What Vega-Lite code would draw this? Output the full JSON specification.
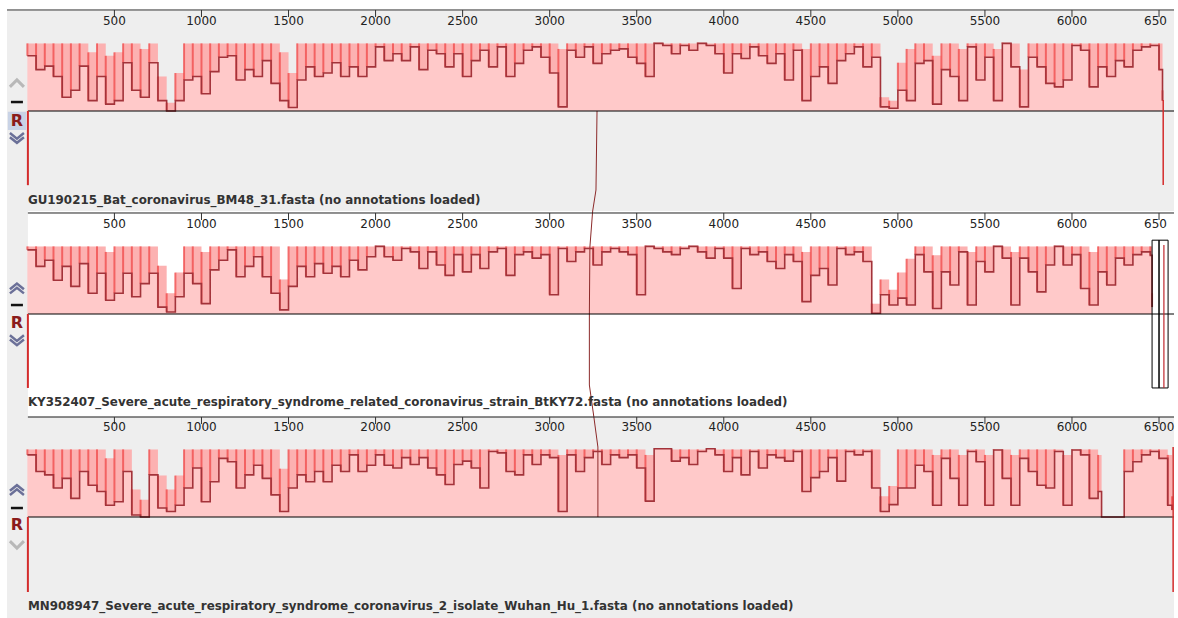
{
"$schema": "https://vega.github.io/schema/vega-lite/v6.json",
"background": "#ffffff",
"padding": {"left": 3, "top": 9, "right": 4, "bottom": 0},
"bounds": "flush",
"spacing": 0,
"config": {"view": {"stroke": null}},
"datasets": {
"one": [{}],
"ticks": [{"v":500},{"v":1000},{"v":1500},{"v":2000},{"v":2500},{"v":3000},{"v":3500},{"v":4000},{"v":4500},{"v":5000},{"v":5500},{"v":6000},{"v":6500}],
"c1": [{"i":0,"x":3272,"y":0},{"i":1,"x":3266,"y":-1.145},{"i":2,"x":3247,"y":-1.4493}],
"c2": [{"i":0,"x":3247,"y":1.4928},{"i":1,"x":3246,"y":1.464},{"i":2,"x":3231,"y":0.971},{"i":3,"x":3228,"y":0},{"i":4,"x":3228,"y":-1.029},{"i":5,"x":3253,"y":-1.4783}],
"c3": [{"i":0,"x":3253,"y":1.4638},{"i":1,"x":3277,"y":1.014},{"i":2,"x":3277,"y":0}],
"p1": [{"x":0,"a":0.8,"h":0.98},{"x":50,"a":0.6,"h":0.98},{"x":100,"a":0.65,"h":0.98},{"x":150,"a":0.5,"h":0.98},{"x":200,"a":0.2,"h":0.98},{"x":250,"a":0.3,"h":0.98},{"x":300,"a":0.65,"h":0.98},{"x":350,"a":0.15,"h":0.85},{"x":400,"a":0.5,"h":0.98},{"x":450,"a":0.1,"h":0.8},{"x":500,"a":0.15,"h":0.85},{"x":550,"a":0.7,"h":0.98},{"x":600,"a":0.3,"h":0.98},{"x":650,"a":0.2,"h":0.9},{"x":700,"a":0.7,"h":0.98},{"x":750,"a":0.15,"h":0.5},{"x":800,"a":0,"h":0.12},{"x":850,"a":0.15,"h":0.55},{"x":900,"a":0.45,"h":0.98},{"x":950,"a":0.5,"h":0.98},{"x":1000,"a":0.25,"h":0.98},{"x":1050,"a":0.57,"h":0.98},{"x":1100,"a":0.78,"h":0.98},{"x":1150,"a":0.8,"h":0.98},{"x":1200,"a":0.45,"h":0.98},{"x":1250,"a":0.6,"h":0.98},{"x":1300,"a":0.5,"h":0.98},{"x":1350,"a":0.73,"h":0.98},{"x":1400,"a":0.4,"h":0.98},{"x":1450,"a":0.15,"h":0.85},{"x":1500,"a":0.05,"h":0.55},{"x":1550,"a":0.45,"h":0.98},{"x":1600,"a":0.64,"h":0.98},{"x":1650,"a":0.5,"h":0.98},{"x":1700,"a":0.55,"h":0.98},{"x":1750,"a":0.7,"h":0.98},{"x":1800,"a":0.5,"h":0.98},{"x":1850,"a":0.64,"h":0.98},{"x":1900,"a":0.5,"h":0.98},{"x":1950,"a":0.64,"h":0.98},{"x":2000,"a":0.93,"h":0.98},{"x":2050,"a":0.73,"h":0.98},{"x":2100,"a":0.83,"h":0.98},{"x":2150,"a":0.73,"h":0.98},{"x":2200,"a":0.93,"h":0.98},{"x":2250,"a":0.6,"h":0.98},{"x":2300,"a":0.88,"h":0.98},{"x":2350,"a":0.83,"h":0.98},{"x":2400,"a":0.64,"h":0.98},{"x":2450,"a":0.83,"h":0.98},{"x":2500,"a":0.5,"h":0.98},{"x":2550,"a":0.73,"h":0.98},{"x":2600,"a":0.88,"h":0.98},{"x":2650,"a":0.64,"h":0.98},{"x":2700,"a":0.93,"h":0.98},{"x":2750,"a":0.5,"h":0.98},{"x":2800,"a":0.69,"h":0.98},{"x":2850,"a":0.88,"h":0.98},{"x":2900,"a":0.93,"h":0.98},{"x":2950,"a":0.78,"h":0.98},{"x":3000,"a":0.55,"h":0.98},{"x":3050,"a":0.06,"h":0.9},{"x":3100,"a":0.88,"h":0.98},{"x":3150,"a":0.78,"h":0.98},{"x":3200,"a":0.93,"h":0.98},{"x":3250,"a":0.69,"h":0.98},{"x":3300,"a":0.83,"h":0.98},{"x":3350,"a":0.88,"h":0.98},{"x":3400,"a":0.9,"h":0.98},{"x":3450,"a":0.78,"h":0.98},{"x":3500,"a":0.69,"h":0.98},{"x":3550,"a":0.5,"h":0.98},{"x":3600,"a":0.98,"h":0.99},{"x":3650,"a":0.95,"h":0.98},{"x":3700,"a":0.83,"h":0.98},{"x":3750,"a":0.95,"h":0.98},{"x":3800,"a":0.88,"h":0.98},{"x":3850,"a":0.98,"h":0.99},{"x":3900,"a":0.95,"h":0.98},{"x":3950,"a":0.83,"h":0.98},{"x":4000,"a":0.55,"h":0.98},{"x":4050,"a":0.83,"h":0.98},{"x":4100,"a":0.76,"h":0.98},{"x":4150,"a":0.93,"h":0.98},{"x":4200,"a":0.8,"h":0.98},{"x":4250,"a":0.69,"h":0.98},{"x":4300,"a":0.83,"h":0.98},{"x":4350,"a":0.45,"h":0.98},{"x":4400,"a":0.88,"h":0.98},{"x":4450,"a":0.15,"h":0.9},{"x":4500,"a":0.5,"h":0.98},{"x":4550,"a":0.64,"h":0.98},{"x":4600,"a":0.4,"h":0.98},{"x":4650,"a":0.73,"h":0.98},{"x":4700,"a":0.83,"h":0.98},{"x":4750,"a":0.93,"h":0.98},{"x":4800,"a":0.64,"h":0.98},{"x":4850,"a":0.78,"h":0.98},{"x":4900,"a":0.06,"h":0.2},{"x":4950,"a":0.04,"h":0.15},{"x":5000,"a":0.3,"h":0.7},{"x":5050,"a":0.15,"h":0.9},{"x":5100,"a":0.69,"h":0.98},{"x":5150,"a":0.73,"h":0.98},{"x":5200,"a":0.1,"h":0.8},{"x":5250,"a":0.6,"h":0.98},{"x":5300,"a":0.5,"h":0.98},{"x":5350,"a":0.15,"h":0.9},{"x":5400,"a":0.93,"h":0.98},{"x":5450,"a":0.45,"h":0.98},{"x":5500,"a":0.78,"h":0.98},{"x":5550,"a":0.15,"h":0.9},{"x":5600,"a":0.98,"h":0.99},{"x":5650,"a":0.64,"h":0.98},{"x":5700,"a":0.06,"h":0.6},{"x":5750,"a":0.78,"h":0.98},{"x":5800,"a":0.64,"h":0.98},{"x":5850,"a":0.4,"h":0.98},{"x":5900,"a":0.35,"h":0.98},{"x":5950,"a":0.45,"h":0.98},{"x":6000,"a":0.95,"h":0.98},{"x":6050,"a":0.88,"h":0.98},{"x":6100,"a":0.35,"h":0.98},{"x":6150,"a":0.64,"h":0.98},{"x":6200,"a":0.5,"h":0.98},{"x":6250,"a":0.73,"h":0.98},{"x":6300,"a":0.64,"h":0.98},{"x":6350,"a":0.88,"h":0.98},{"x":6400,"a":0.93,"h":0.98},{"x":6450,"a":0.95,"h":0.98},{"x":6500,"a":0.6,"h":0.98},{"x":6520,"a":0.15,"h":0.3}],
"p2": [{"x":0,"a":0.93,"h":0.98},{"x":50,"a":0.69,"h":0.98},{"x":100,"a":0.78,"h":0.98},{"x":150,"a":0.49,"h":0.98},{"x":200,"a":0.69,"h":0.98},{"x":250,"a":0.4,"h":0.98},{"x":300,"a":0.73,"h":0.98},{"x":350,"a":0.3,"h":0.98},{"x":400,"a":0.59,"h":0.98},{"x":450,"a":0.2,"h":0.9},{"x":500,"a":0.3,"h":0.98},{"x":550,"a":0.59,"h":0.98},{"x":600,"a":0.25,"h":0.98},{"x":650,"a":0.44,"h":0.98},{"x":700,"a":0.59,"h":0.98},{"x":750,"a":0.1,"h":0.7},{"x":800,"a":0.03,"h":0.3},{"x":850,"a":0.25,"h":0.6},{"x":900,"a":0.59,"h":0.98},{"x":950,"a":0.44,"h":0.98},{"x":1000,"a":0.15,"h":0.9},{"x":1050,"a":0.64,"h":0.98},{"x":1100,"a":0.78,"h":0.98},{"x":1150,"a":0.93,"h":0.98},{"x":1200,"a":0.54,"h":0.98},{"x":1250,"a":0.69,"h":0.98},{"x":1300,"a":0.83,"h":0.98},{"x":1350,"a":0.54,"h":0.98},{"x":1400,"a":0.3,"h":0.98},{"x":1450,"a":0.06,"h":0.5},{"x":1500,"a":0.4,"h":0.98},{"x":1550,"a":0.69,"h":0.98},{"x":1600,"a":0.54,"h":0.98},{"x":1650,"a":0.73,"h":0.98},{"x":1700,"a":0.59,"h":0.98},{"x":1750,"a":0.69,"h":0.98},{"x":1800,"a":0.54,"h":0.98},{"x":1850,"a":0.78,"h":0.98},{"x":1900,"a":0.64,"h":0.98},{"x":1950,"a":0.83,"h":0.98},{"x":2000,"a":0.98,"h":0.99},{"x":2050,"a":0.83,"h":0.98},{"x":2100,"a":0.78,"h":0.98},{"x":2150,"a":0.95,"h":0.98},{"x":2200,"a":0.9,"h":0.98},{"x":2250,"a":0.66,"h":0.98},{"x":2300,"a":0.9,"h":0.98},{"x":2350,"a":0.71,"h":0.98},{"x":2400,"a":0.56,"h":0.98},{"x":2450,"a":0.86,"h":0.98},{"x":2500,"a":0.61,"h":0.98},{"x":2550,"a":0.86,"h":0.98},{"x":2600,"a":0.66,"h":0.98},{"x":2650,"a":0.9,"h":0.98},{"x":2700,"a":0.95,"h":0.98},{"x":2750,"a":0.56,"h":0.98},{"x":2800,"a":0.86,"h":0.98},{"x":2850,"a":0.9,"h":0.98},{"x":2900,"a":0.81,"h":0.98},{"x":2950,"a":0.86,"h":0.98},{"x":3000,"a":0.28,"h":0.98},{"x":3050,"a":0.95,"h":0.98},{"x":3100,"a":0.76,"h":0.98},{"x":3150,"a":0.9,"h":0.98},{"x":3200,"a":0.95,"h":0.98},{"x":3250,"a":0.71,"h":0.98},{"x":3300,"a":0.9,"h":0.98},{"x":3350,"a":0.95,"h":0.98},{"x":3400,"a":0.9,"h":0.98},{"x":3450,"a":0.86,"h":0.98},{"x":3500,"a":0.28,"h":0.98},{"x":3550,"a":0.98,"h":0.99},{"x":3600,"a":0.95,"h":0.98},{"x":3650,"a":0.9,"h":0.98},{"x":3700,"a":0.86,"h":0.98},{"x":3750,"a":0.95,"h":0.98},{"x":3800,"a":0.98,"h":0.99},{"x":3850,"a":0.9,"h":0.98},{"x":3900,"a":0.81,"h":0.98},{"x":3950,"a":0.95,"h":0.98},{"x":4000,"a":0.81,"h":0.98},{"x":4050,"a":0.37,"h":0.98},{"x":4100,"a":0.95,"h":0.98},{"x":4150,"a":0.86,"h":0.98},{"x":4200,"a":0.9,"h":0.98},{"x":4250,"a":0.76,"h":0.98},{"x":4300,"a":0.66,"h":0.98},{"x":4350,"a":0.86,"h":0.98},{"x":4400,"a":0.76,"h":0.98},{"x":4450,"a":0.18,"h":0.9},{"x":4500,"a":0.56,"h":0.98},{"x":4550,"a":0.66,"h":0.98},{"x":4600,"a":0.42,"h":0.98},{"x":4650,"a":0.95,"h":0.98},{"x":4700,"a":0.86,"h":0.98},{"x":4750,"a":0.9,"h":0.98},{"x":4800,"a":0.76,"h":0.98},{"x":4850,"a":0.01,"h":0.15},{"x":4900,"a":0.28,"h":0.5},{"x":4950,"a":0.13,"h":0.35},{"x":5000,"a":0.23,"h":0.6},{"x":5050,"a":0.13,"h":0.8},{"x":5100,"a":0.86,"h":0.98},{"x":5150,"a":0.61,"h":0.98},{"x":5200,"a":0.08,"h":0.85},{"x":5250,"a":0.61,"h":0.98},{"x":5300,"a":0.42,"h":0.98},{"x":5350,"a":0.9,"h":0.98},{"x":5400,"a":0.13,"h":0.9},{"x":5450,"a":0.76,"h":0.98},{"x":5500,"a":0.61,"h":0.98},{"x":5550,"a":0.98,"h":0.99},{"x":5600,"a":0.81,"h":0.98},{"x":5650,"a":0.13,"h":0.9},{"x":5700,"a":0.81,"h":0.98},{"x":5750,"a":0.61,"h":0.98},{"x":5800,"a":0.32,"h":0.98},{"x":5850,"a":0.71,"h":0.98},{"x":5900,"a":0.98,"h":0.99},{"x":5950,"a":0.71,"h":0.98},{"x":6000,"a":0.86,"h":0.98},{"x":6050,"a":0.37,"h":0.98},{"x":6100,"a":0.13,"h":0.9},{"x":6150,"a":0.61,"h":0.98},{"x":6200,"a":0.42,"h":0.98},{"x":6250,"a":0.81,"h":0.98},{"x":6300,"a":0.71,"h":0.98},{"x":6350,"a":0.86,"h":0.98},{"x":6400,"a":0.9,"h":0.98},{"x":6450,"a":0.85,"h":0.98},{"x":6460,"a":0.1,"h":0.3}],
"p3": [{"x":0,"a":0.9,"h":0.98},{"x":50,"a":0.66,"h":0.98},{"x":100,"a":0.61,"h":0.98},{"x":150,"a":0.42,"h":0.98},{"x":200,"a":0.56,"h":0.98},{"x":250,"a":0.27,"h":0.98},{"x":300,"a":0.66,"h":0.98},{"x":350,"a":0.46,"h":0.98},{"x":400,"a":0.37,"h":0.98},{"x":450,"a":0.17,"h":0.85},{"x":500,"a":0.22,"h":0.98},{"x":550,"a":0.66,"h":0.98},{"x":600,"a":0.03,"h":0.4},{"x":650,"a":0,"h":0.25},{"x":700,"a":0.61,"h":0.98},{"x":750,"a":0.13,"h":0.6},{"x":800,"a":0.08,"h":0.4},{"x":850,"a":0.17,"h":0.6},{"x":900,"a":0.42,"h":0.98},{"x":950,"a":0.71,"h":0.98},{"x":1000,"a":0.22,"h":0.98},{"x":1050,"a":0.51,"h":0.98},{"x":1100,"a":0.85,"h":0.98},{"x":1150,"a":0.8,"h":0.98},{"x":1200,"a":0.42,"h":0.98},{"x":1250,"a":0.61,"h":0.98},{"x":1300,"a":0.75,"h":0.98},{"x":1350,"a":0.56,"h":0.98},{"x":1400,"a":0.32,"h":0.98},{"x":1450,"a":0.08,"h":0.7},{"x":1500,"a":0.42,"h":0.98},{"x":1550,"a":0.61,"h":0.98},{"x":1600,"a":0.51,"h":0.98},{"x":1650,"a":0.66,"h":0.98},{"x":1700,"a":0.51,"h":0.98},{"x":1750,"a":0.75,"h":0.98},{"x":1800,"a":0.66,"h":0.98},{"x":1850,"a":0.9,"h":0.98},{"x":1900,"a":0.66,"h":0.98},{"x":1950,"a":0.75,"h":0.98},{"x":2000,"a":0.9,"h":0.98},{"x":2050,"a":0.75,"h":0.98},{"x":2100,"a":0.71,"h":0.98},{"x":2150,"a":0.86,"h":0.98},{"x":2200,"a":0.76,"h":0.98},{"x":2250,"a":0.86,"h":0.98},{"x":2300,"a":0.71,"h":0.98},{"x":2350,"a":0.61,"h":0.98},{"x":2400,"a":0.47,"h":0.98},{"x":2450,"a":0.76,"h":0.98},{"x":2500,"a":0.81,"h":0.98},{"x":2550,"a":0.71,"h":0.98},{"x":2600,"a":0.42,"h":0.98},{"x":2650,"a":0.95,"h":0.98},{"x":2700,"a":0.93,"h":0.98},{"x":2750,"a":0.66,"h":0.98},{"x":2800,"a":0.61,"h":0.98},{"x":2850,"a":0.9,"h":0.98},{"x":2900,"a":0.76,"h":0.98},{"x":2950,"a":0.9,"h":0.98},{"x":3000,"a":0.86,"h":0.98},{"x":3050,"a":0.08,"h":0.9},{"x":3100,"a":0.9,"h":0.98},{"x":3150,"a":0.66,"h":0.98},{"x":3200,"a":0.86,"h":0.98},{"x":3250,"a":0.95,"h":0.98},{"x":3300,"a":0.76,"h":0.98},{"x":3350,"a":0.9,"h":0.98},{"x":3400,"a":0.86,"h":0.98},{"x":3450,"a":0.9,"h":0.98},{"x":3500,"a":0.71,"h":0.98},{"x":3550,"a":0.23,"h":0.9},{"x":3600,"a":0.99,"h":0.99},{"x":3650,"a":0.99,"h":0.99},{"x":3700,"a":0.81,"h":0.98},{"x":3750,"a":0.86,"h":0.98},{"x":3800,"a":0.76,"h":0.98},{"x":3850,"a":0.95,"h":0.98},{"x":3900,"a":0.99,"h":0.99},{"x":3950,"a":0.9,"h":0.98},{"x":4000,"a":0.66,"h":0.98},{"x":4050,"a":0.86,"h":0.98},{"x":4100,"a":0.61,"h":0.98},{"x":4150,"a":0.95,"h":0.98},{"x":4200,"a":0.71,"h":0.98},{"x":4250,"a":0.9,"h":0.98},{"x":4300,"a":0.86,"h":0.98},{"x":4350,"a":0.81,"h":0.98},{"x":4400,"a":0.95,"h":0.98},{"x":4450,"a":0.37,"h":0.98},{"x":4500,"a":0.57,"h":0.98},{"x":4550,"a":0.66,"h":0.98},{"x":4600,"a":0.86,"h":0.98},{"x":4650,"a":0.52,"h":0.98},{"x":4700,"a":0.95,"h":0.98},{"x":4750,"a":0.9,"h":0.98},{"x":4800,"a":0.95,"h":0.98},{"x":4850,"a":0.42,"h":0.98},{"x":4900,"a":0.08,"h":0.3},{"x":4950,"a":0.18,"h":0.45},{"x":5000,"a":0.42,"h":0.98},{"x":5050,"a":0.42,"h":0.98},{"x":5100,"a":0.75,"h":0.98},{"x":5150,"a":0.66,"h":0.98},{"x":5200,"a":0.17,"h":0.9},{"x":5250,"a":0.85,"h":0.98},{"x":5300,"a":0.56,"h":0.98},{"x":5350,"a":0.17,"h":0.9},{"x":5400,"a":0.95,"h":0.98},{"x":5450,"a":0.8,"h":0.98},{"x":5500,"a":0.17,"h":0.9},{"x":5550,"a":0.97,"h":0.98},{"x":5600,"a":0.56,"h":0.98},{"x":5650,"a":0.17,"h":0.9},{"x":5700,"a":0.85,"h":0.98},{"x":5750,"a":0.66,"h":0.98},{"x":5800,"a":0.46,"h":0.98},{"x":5850,"a":0.42,"h":0.98},{"x":5900,"a":0.95,"h":0.98},{"x":5950,"a":0.17,"h":0.9},{"x":6000,"a":0.97,"h":0.98},{"x":6050,"a":0.9,"h":0.98},{"x":6100,"a":0.27,"h":0.98},{"x":6150,"a":0.37,"h":0.9},{"x":6170,"a":0,"h":0},{"x":6200,"a":0,"h":0},{"x":6250,"a":0,"h":0},{"x":6265,"a":0,"h":0},{"x":6300,"a":0.66,"h":0.98},{"x":6350,"a":0.8,"h":0.98},{"x":6400,"a":0.9,"h":0.98},{"x":6450,"a":0.95,"h":0.98},{"x":6500,"a":0.85,"h":0.98},{"x":6550,"a":0.17,"h":0.9},{"x":6575,"a":0.1,"h":0.3}]
},
"vconcat": [
{
"width": 1167, "height": 202,
"view": {"fill": "#eeeeee", "stroke": null},
"layer": [
{"data":{"name":"p1"},"mark":{"type":"area","interpolate":"step-after","color":"#ffc9c9"},"encoding":{"x":{"field":"x","type":"quantitative","scale":{"domain":[-117,6586],"nice":false,"zero":false},"axis":null},"y":{"field":"h","type":"quantitative","scale":{"domain":[-1.4493,1.4783],"nice":false,"zero":false},"axis":null},"y2":{"datum":0}}},
{"data":{"name":"p1"},"mark":{"type":"area","interpolate":"step-after","color":"#f04848","opacity":0.18},"encoding":{"x":{"field":"x","type":"quantitative","axis":null},"y":{"field":"a","type":"quantitative","axis":null},"y2":{"field":"h"}}},
{"data":{"name":"p1"},"mark":{"type":"rule","color":"#f04848","strokeWidth":2,"opacity":0.75},"encoding":{"x":{"field":"x","type":"quantitative","axis":null},"y":{"field":"a","type":"quantitative","axis":null},"y2":{"field":"h"}}},
{"data":{"name":"c1"},"mark":{"type":"line","color":"#8c2a2a","strokeWidth":1},"encoding":{"x":{"field":"x","type":"quantitative","axis":null},"y":{"field":"y","type":"quantitative","axis":null},"order":{"field":"i"}}},
{"data":{"name":"p1"},"mark":{"type":"line","interpolate":"step-after","color":"#a3333a","strokeWidth":1.6},"encoding":{"x":{"field":"x","type":"quantitative","axis":null},"y":{"field":"a","type":"quantitative","axis":null}}},
{"data":{"name":"one"},"mark":{"type":"rule","color":"#000000","strokeWidth":1},"encoding":{"x":{"datum":3,"axis":null},"x2":{"datum":6586},"y":{"datum":0,"axis":null}}},
{"data":{"name":"one"},"mark":{"type":"rule","color":"#d42b2b","strokeWidth":2},"encoding":{"x":{"datum":3,"axis":null},"y":{"datum":0,"axis":null},"y2":{"datum":-1.075}}},
{"data":{"name":"one"},"mark":{"type":"rule","color":"#d42b2b","strokeWidth":1.5},"encoding":{"x":{"datum":6524,"axis":null},"y":{"datum":0.16,"axis":null},"y2":{"datum":-1.072}}},
{"data":{"name":"one"},"mark":{"type":"rule","color":"#3a3a3a","strokeWidth":1},"encoding":{"x":{"datum":-117,"axis":null},"x2":{"datum":6586},"y":{"datum":1.464,"axis":null}}},
{"data":{"name":"ticks"},"mark":{"type":"rule","color":"#333333","strokeWidth":1},"encoding":{"x":{"field":"v","type":"quantitative","axis":null},"y":{"datum":1.464,"axis":null},"y2":{"datum":1.362}}},
{"data":{"name":"ticks"},"transform":[{"filter":"datum.v < 6500"}],"mark":{"type":"text","font":"DejaVu Sans","fontSize":12,"color":"#222222","baseline":"middle","align":"center"},"encoding":{"x":{"field":"v","type":"quantitative","axis":null},"y":{"datum":1.304,"axis":null},"text":{"field":"v","type":"quantitative","format":"d"}}},
{"data":{"name":"ticks"},"transform":[{"filter":"datum.v == 6500"}],"mark":{"type":"text","font":"DejaVu Sans","fontSize":12,"color":"#222222","baseline":"middle","align":"left","dx":-15,"limit":23,"ellipsis":"\u200b"},"encoding":{"x":{"field":"v","type":"quantitative","axis":null},"y":{"datum":1.304,"axis":null},"text":{"field":"v","type":"quantitative","format":"d"}}},
{"data":{"name":"one"},"mark":{"type":"text","text":"GU190215_Bat_coronavirus_BM48_31.fasta (no annotations loaded)","font":"DejaVu Sans","fontWeight":"bold","fontSize":11.9,"color":"#333333","align":"left","baseline":"middle"},"encoding":{"x":{"datum":3,"axis":null},"y":{"datum":-1.29,"axis":null}}},
{"data":{"name":"one"},"mark":{"type":"rect","color":"#c9d3e6"},"encoding":{"x":{"datum":-112,"axis":null},"x2":{"datum":-6},"y":{"datum":-0.01,"axis":null},"y2":{"datum":-0.275}}},
{"data":{"name":"one"},"mark":{"type":"point","shape":"M-1,0.5L0,-0.5L1,0.5","filled":false,"size":196,"strokeWidth":3,"color":"#b8b8b8","opacity":1},"encoding":{"x":{"datum":-60,"axis":null},"y":{"datum":0.4,"axis":null}}},
{"data":{"name":"one"},"mark":{"type":"point","shape":"M-1,0L1,0","filled":false,"size":144,"strokeWidth":2.5,"color":"#111111","opacity":1},"encoding":{"x":{"datum":-60,"axis":null},"y":{"datum":0.13,"axis":null}}},
{"data":{"name":"one"},"mark":{"type":"text","text":"R","font":"DejaVu Sans","fontWeight":"bold","fontSize":16,"color":"#8b1c1c","align":"center","baseline":"middle"},"encoding":{"x":{"datum":-60,"axis":null},"y":{"datum":-0.145,"axis":null}}},
{"data":{"name":"one"},"mark":{"type":"point","shape":"M-1,-0.7L0,0.1L1,-0.7M-1,-0.1L0,0.7L1,-0.1","filled":false,"size":196,"strokeWidth":2.5,"color":"#6b7098","opacity":1},"encoding":{"x":{"datum":-60,"axis":null},"y":{"datum":-0.39,"axis":null}}}
]
},
{
"width": 1167, "height": 205,
"view": {"fill": "#ffffff", "stroke": null},
"layer": [
{"data":{"name":"one"},"mark":{"type":"rect","color":"#eeeeee"},"encoding":{"x":{"datum":-117,"type":"quantitative","scale":{"domain":[-117,6586],"nice":false,"zero":false},"axis":null},"x2":{"datum":3},"y":{"datum":-1.4783,"type":"quantitative","scale":{"domain":[-1.4783,1.4928],"nice":false,"zero":false},"axis":null},"y2":{"datum":1.4928}}},
{"data":{"name":"p2"},"mark":{"type":"area","interpolate":"step-after","color":"#ffc9c9"},"encoding":{"x":{"field":"x","type":"quantitative","axis":null},"y":{"field":"h","type":"quantitative","axis":null},"y2":{"datum":0}}},
{"data":{"name":"p2"},"mark":{"type":"area","interpolate":"step-after","color":"#f04848","opacity":0.18},"encoding":{"x":{"field":"x","type":"quantitative","axis":null},"y":{"field":"a","type":"quantitative","axis":null},"y2":{"field":"h"}}},
{"data":{"name":"p2"},"mark":{"type":"rule","color":"#f04848","strokeWidth":2,"opacity":0.75},"encoding":{"x":{"field":"x","type":"quantitative","axis":null},"y":{"field":"a","type":"quantitative","axis":null},"y2":{"field":"h"}}},
{"data":{"name":"c2"},"mark":{"type":"line","color":"#8c2a2a","strokeWidth":1},"encoding":{"x":{"field":"x","type":"quantitative","axis":null},"y":{"field":"y","type":"quantitative","axis":null},"order":{"field":"i"}}},
{"data":{"name":"p2"},"mark":{"type":"line","interpolate":"step-after","color":"#a3333a","strokeWidth":1.6},"encoding":{"x":{"field":"x","type":"quantitative","axis":null},"y":{"field":"a","type":"quantitative","axis":null}}},
{"data":{"name":"one"},"mark":{"type":"rule","color":"#000000","strokeWidth":1},"encoding":{"x":{"datum":3,"axis":null},"x2":{"datum":6586},"y":{"datum":0,"axis":null}}},
{"data":{"name":"one"},"mark":{"type":"rule","color":"#d42b2b","strokeWidth":2},"encoding":{"x":{"datum":3,"axis":null},"y":{"datum":0,"axis":null},"y2":{"datum":-1.072}}},
{"data":{"name":"one"},"mark":{"type":"rect","fillOpacity":0,"stroke":"#000000","strokeWidth":1},"encoding":{"x":{"datum":6460,"axis":null},"x2":{"datum":6500},"y":{"datum":1.07,"axis":null},"y2":{"datum":-1.072}}},
{"data":{"name":"one"},"mark":{"type":"rect","fillOpacity":0,"stroke":"#000000","strokeWidth":1},"encoding":{"x":{"datum":6500,"axis":null},"x2":{"datum":6552},"y":{"datum":1.07,"axis":null},"y2":{"datum":-1.072}}},
{"data":{"name":"one"},"mark":{"type":"rule","color":"#c0282e","strokeWidth":1.2},"encoding":{"x":{"datum":6528,"axis":null},"y":{"datum":1.0,"axis":null},"y2":{"datum":-1.072}}},
{"data":{"name":"one"},"mark":{"type":"rule","color":"#222222","strokeWidth":1},"encoding":{"x":{"datum":3,"axis":null},"x2":{"datum":6586},"y":{"datum":1.464,"axis":null}}},
{"data":{"name":"ticks"},"mark":{"type":"rule","color":"#333333","strokeWidth":1},"encoding":{"x":{"field":"v","type":"quantitative","axis":null},"y":{"datum":1.464,"axis":null},"y2":{"datum":1.362}}},
{"data":{"name":"ticks"},"transform":[{"filter":"datum.v < 6500"}],"mark":{"type":"text","font":"DejaVu Sans","fontSize":12,"color":"#222222","baseline":"middle","align":"center"},"encoding":{"x":{"field":"v","type":"quantitative","axis":null},"y":{"datum":1.304,"axis":null},"text":{"field":"v","type":"quantitative","format":"d"}}},
{"data":{"name":"ticks"},"transform":[{"filter":"datum.v == 6500"}],"mark":{"type":"text","font":"DejaVu Sans","fontSize":12,"color":"#222222","baseline":"middle","align":"left","dx":-15,"limit":24,"ellipsis":"\u200b"},"encoding":{"x":{"field":"v","type":"quantitative","axis":null},"y":{"datum":1.304,"axis":null},"text":{"field":"v","type":"quantitative","format":"d"}}},
{"data":{"name":"one"},"mark":{"type":"text","text":"KY352407_Severe_acute_respiratory_syndrome_related_coronavirus_strain_BtKY72.fasta (no annotations loaded)","font":"DejaVu Sans","fontWeight":"bold","fontSize":11.9,"color":"#333333","align":"left","baseline":"middle"},"encoding":{"x":{"datum":3,"axis":null},"y":{"datum":-1.275,"axis":null}}},
{"data":{"name":"one"},"mark":{"type":"point","shape":"M-1,0.1L0,-0.7L1,0.1M-1,0.7L0,-0.1L1,0.7","filled":false,"size":196,"strokeWidth":2.5,"color":"#6b7098","opacity":1},"encoding":{"x":{"datum":-60,"axis":null},"y":{"datum":0.37,"axis":null}}},
{"data":{"name":"one"},"mark":{"type":"point","shape":"M-1,0L1,0","filled":false,"size":144,"strokeWidth":2.5,"color":"#111111","opacity":1},"encoding":{"x":{"datum":-60,"axis":null},"y":{"datum":0.13,"axis":null}}},
{"data":{"name":"one"},"mark":{"type":"text","text":"R","font":"DejaVu Sans","fontWeight":"bold","fontSize":16,"color":"#8b1c1c","align":"center","baseline":"middle"},"encoding":{"x":{"datum":-60,"axis":null},"y":{"datum":-0.13,"axis":null}}},
{"data":{"name":"one"},"mark":{"type":"point","shape":"M-1,-0.7L0,0.1L1,-0.7M-1,-0.1L0,0.7L1,-0.1","filled":false,"size":196,"strokeWidth":2.5,"color":"#6b7098","opacity":1},"encoding":{"x":{"datum":-60,"axis":null},"y":{"datum":-0.38,"axis":null}}}
]
},
{
"width": 1167, "height": 202,
"view": {"fill": "#eeeeee", "stroke": null},
"layer": [
{"data":{"name":"p3"},"mark":{"type":"area","interpolate":"step-after","color":"#ffc9c9"},"encoding":{"x":{"field":"x","type":"quantitative","scale":{"domain":[-117,6586],"nice":false,"zero":false},"axis":null},"y":{"field":"h","type":"quantitative","scale":{"domain":[-1.4638,1.4638],"nice":false,"zero":false},"axis":null},"y2":{"datum":0}}},
{"data":{"name":"p3"},"mark":{"type":"area","interpolate":"step-after","color":"#f04848","opacity":0.18},"encoding":{"x":{"field":"x","type":"quantitative","axis":null},"y":{"field":"a","type":"quantitative","axis":null},"y2":{"field":"h"}}},
{"data":{"name":"p3"},"mark":{"type":"rule","color":"#f04848","strokeWidth":2,"opacity":0.75},"encoding":{"x":{"field":"x","type":"quantitative","axis":null},"y":{"field":"a","type":"quantitative","axis":null},"y2":{"field":"h"}}},
{"data":{"name":"c3"},"mark":{"type":"line","color":"#8c2a2a","strokeWidth":1},"encoding":{"x":{"field":"x","type":"quantitative","axis":null},"y":{"field":"y","type":"quantitative","axis":null},"order":{"field":"i"}}},
{"data":{"name":"p3"},"mark":{"type":"line","interpolate":"step-after","color":"#a3333a","strokeWidth":1.6},"encoding":{"x":{"field":"x","type":"quantitative","axis":null},"y":{"field":"a","type":"quantitative","axis":null}}},
{"data":{"name":"one"},"mark":{"type":"rule","color":"#000000","strokeWidth":1},"encoding":{"x":{"datum":3,"axis":null},"x2":{"datum":6586},"y":{"datum":0,"axis":null}}},
{"data":{"name":"one"},"mark":{"type":"rule","color":"#d42b2b","strokeWidth":2},"encoding":{"x":{"datum":3,"axis":null},"y":{"datum":0,"axis":null},"y2":{"datum":-1.087}}},
{"data":{"name":"one"},"mark":{"type":"rule","color":"#d42b2b","strokeWidth":1.5},"encoding":{"x":{"datum":6581,"axis":null},"y":{"datum":1.014,"axis":null},"y2":{"datum":-1.087}}},
{"data":{"name":"one"},"mark":{"type":"rule","color":"#222222","strokeWidth":1},"encoding":{"x":{"datum":3,"axis":null},"x2":{"datum":6586},"y":{"datum":1.449,"axis":null}}},
{"data":{"name":"ticks"},"mark":{"type":"rule","color":"#333333","strokeWidth":1},"encoding":{"x":{"field":"v","type":"quantitative","axis":null},"y":{"datum":1.449,"axis":null},"y2":{"datum":1.347}}},
{"data":{"name":"ticks"},"mark":{"type":"text","font":"DejaVu Sans","fontSize":12,"color":"#222222","baseline":"middle","align":"center"},"encoding":{"x":{"field":"v","type":"quantitative","axis":null},"y":{"datum":1.304,"axis":null},"text":{"field":"v","type":"quantitative","format":"d"}}},
{"data":{"name":"one"},"mark":{"type":"text","text":"MN908947_Severe_acute_respiratory_syndrome_coronavirus_2_isolate_Wuhan_Hu_1.fasta (no annotations loaded)","font":"DejaVu Sans","fontWeight":"bold","fontSize":11.9,"color":"#333333","align":"left","baseline":"middle"},"encoding":{"x":{"datum":3,"axis":null},"y":{"datum":-1.29,"axis":null}}},
{"data":{"name":"one"},"mark":{"type":"point","shape":"M-1,0.1L0,-0.7L1,0.1M-1,0.7L0,-0.1L1,0.7","filled":false,"size":196,"strokeWidth":2.5,"color":"#6b7098","opacity":1},"encoding":{"x":{"datum":-60,"axis":null},"y":{"datum":0.39,"axis":null}}},
{"data":{"name":"one"},"mark":{"type":"point","shape":"M-1,0L1,0","filled":false,"size":144,"strokeWidth":2.5,"color":"#111111","opacity":1},"encoding":{"x":{"datum":-60,"axis":null},"y":{"datum":0.13,"axis":null}}},
{"data":{"name":"one"},"mark":{"type":"text","text":"R","font":"DejaVu Sans","fontWeight":"bold","fontSize":16,"color":"#8b1c1c","align":"center","baseline":"middle"},"encoding":{"x":{"datum":-60,"axis":null},"y":{"datum":-0.12,"axis":null}}},
{"data":{"name":"one"},"mark":{"type":"point","shape":"M-1,-0.5L0,0.5L1,-0.5","filled":false,"size":196,"strokeWidth":3,"color":"#b8b8b8","opacity":1},"encoding":{"x":{"datum":-60,"axis":null},"y":{"datum":-0.4,"axis":null}}}
]
}
]
}
